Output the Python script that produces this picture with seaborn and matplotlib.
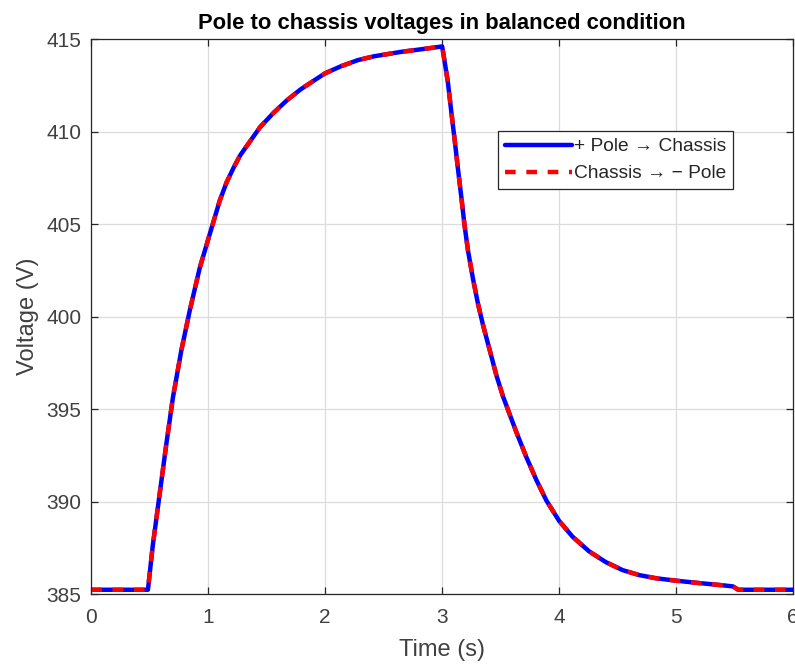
import matplotlib
matplotlib.use("Agg")
import matplotlib.pyplot as plt
import seaborn as sns
import pandas as pd

# Data
time_s = [0.0, 0.485, 0.526, 0.583, 0.641, 0.698, 0.770, 0.842, 0.928, 1.0, 1.043, 1.1,
          1.158, 1.216, 1.273, 1.359, 1.445, 1.56, 1.675, 1.79, 1.905, 2.0, 2.135, 2.279,
          2.42, 2.652, 2.85, 3.0,
          3.02, 3.049, 3.077, 3.106, 3.134, 3.163, 3.191, 3.22, 3.263, 3.306, 3.349,
          3.406, 3.463, 3.52, 3.577, 3.634, 3.72, 3.806, 3.891, 4.0, 4.114, 4.257, 4.4,
          4.543, 4.686, 4.829, 5.0, 5.2, 5.4, 5.486, 5.53, 6.0]
v_pos_chassis = [385.23, 385.23, 387.6, 390.3, 393.05, 395.6, 398.15, 400.31, 402.63,
                 404.17, 405.08, 406.29, 407.26, 408.03, 408.71, 409.48, 410.25, 411.02,
                 411.70, 412.28, 412.76, 413.15, 413.53, 413.86, 414.07, 414.31, 414.47,
                 414.6,
                 413.82, 412.66, 411.12, 409.58, 408.03, 406.49, 404.94, 403.59, 402.05,
                 400.69, 399.54, 398.19, 396.83, 395.68, 394.71, 393.75, 392.39, 391.15,
                 390.05, 388.95, 388.1, 387.3, 386.72, 386.29, 386.02, 385.85, 385.72,
                 385.59, 385.47, 385.41, 385.23, 385.23]
v_chassis_neg = list(v_pos_chassis)

label_pos = "+ Pole \u2192 Chassis"
label_neg = "Chassis \u2192 \u2212 Pole"

df_pos = pd.DataFrame({"t": time_s, "v": v_pos_chassis})
df_neg = pd.DataFrame({"t": time_s, "v": v_chassis_neg})

sns.set_theme(style="whitegrid")
plt.rcParams['font.family'] = ['Liberation Sans', 'DejaVu Sans']

fig = plt.figure(figsize=(7.95, 6.64), dpi=100)
ax = fig.add_axes([0.1147, 0.1054, 0.883, 0.8358])

sns.lineplot(data=df_pos, x="t", y="v", ax=ax, color="#0000ff", linewidth=3.2,
             label=label_pos, sort=False)
sns.lineplot(data=df_neg, x="t", y="v", ax=ax, color="#ff0000", linewidth=3.2,
             linestyle=(0, (2.4, 2.4)), label=label_neg, sort=False)

tick_color = "#404040"
ax.set_xlim(0, 6)
ax.set_ylim(385, 415)
ax.set_xticks([0, 1, 2, 3, 4, 5, 6])
ax.set_yticks([385, 390, 395, 400, 405, 410, 415])
ax.grid(True, color="#dcdcdc", linewidth=0.9)
ax.set_facecolor("white")
for s in ax.spines.values():
    s.set_color("#262626")
    s.set_linewidth(0.9)
    s.set_visible(True)
ax.tick_params(direction="in", length=5, width=0.9, colors="#262626", labelsize=15,
               labelcolor=tick_color, top=True, right=True, bottom=True, left=True)
ax.tick_params(axis="x", pad=10)
ax.tick_params(axis="y", pad=7)
ax.set_xlabel("Time (s)", fontsize=17, color=tick_color, labelpad=9)
ax.set_ylabel("Voltage (V)", fontsize=17, color=tick_color, labelpad=5)
ax.set_title("Pole to chassis voltages in balanced condition", fontsize=15.8,
             fontweight="bold", color="black", pad=7)

leg = ax.legend(loc="upper left", bbox_to_anchor=(0.58, 0.834), fontsize=13.8,
                frameon=True, fancybox=False, framealpha=1, edgecolor="#262626",
                handlelength=3.5, handletextpad=0.1, borderpad=0.35, labelspacing=0.5,
                borderaxespad=0)
leg.get_frame().set_linewidth(0.9)
for t in leg.get_texts():
    t.set_color("#262626")

fig.savefig("out.png", dpi=100, facecolor="white")
